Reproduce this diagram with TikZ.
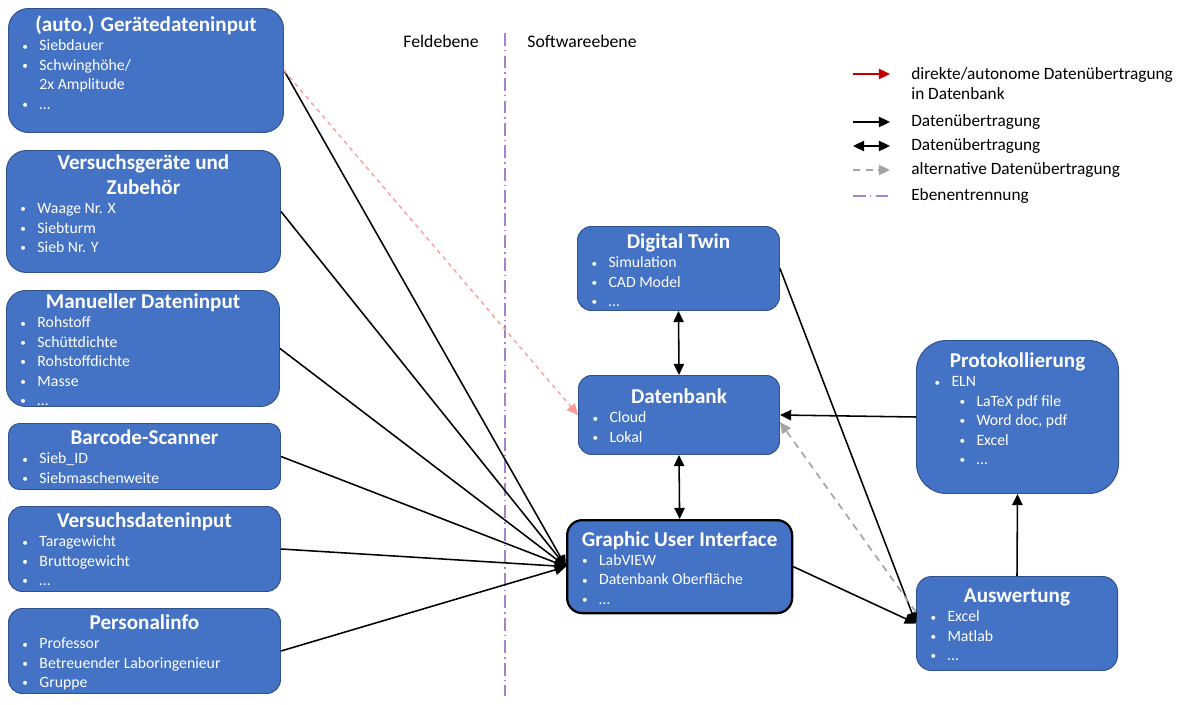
\documentclass[tikz,border=0pt]{standalone}
\usepackage{fontspec}
\setmainfont{Carlito}
\usetikzlibrary{arrows.meta}

\newlength\unitpx
\setlength\unitpx{0.025cm}
\definecolor{boxblue}{HTML}{4472C4}
\definecolor{boxline}{HTML}{2F528F}
\definecolor{legred}{HTML}{C00000}
\definecolor{pinkred}{HTML}{FF9B9B}
\definecolor{altgray}{HTML}{A5A5A5}
\definecolor{sepviolet}{HTML}{A383CC}

\newcommand\titlefont{\fontsize{15}{17.7}\selectfont\bfseries}
\newcommand\itemfont{\fontsize{11.2}{13.8}\selectfont\mdseries}
\newcommand\dotmark{\raisebox{0.6pt}{\fontsize{8}{8}\selectfont\textbullet}}
\newcommand\bul[2][14]{\par\noindent\hspace*{#1\unitpx}\makebox[17\unitpx][l]{\dotmark}#2}
\newcommand\boxbody[5]{%
  \parbox[c][#2\unitpx][t]{#1\unitpx}{%
    \centering\titlefont\rule{0pt}{#3\unitpx}#4\par
    \raggedright\itemfont #5}}

\begin{document}
\begin{tikzpicture}[x=0.025cm, y=-0.025cm,
    databox/.style={draw=boxline, line width=0.7pt, fill=boxblue, text=white,
      inner sep=0pt, anchor=north west},
    flow/.style={line width=1.1pt, -{Triangle[length=0.28cm, width=0.26cm]}},
    both/.style={line width=1.1pt, {Triangle[length=0.28cm, width=0.26cm]}-{Triangle[length=0.28cm, width=0.26cm]}},
    direct/.style={pinkred, line width=1pt, dashed, -{Triangle[length=0.28cm, width=0.26cm]}},
    alt/.style={altgray, line width=1.2pt, dash pattern=on 5pt off 4pt, -{Triangle[length=0.28cm, width=0.26cm]}},
    sep/.style={sepviolet, line width=0.9pt, dash pattern=on 9pt off 3pt on 1pt off 3pt},
    level/.style={font=\fontsize{12.6}{15}\selectfont, inner sep=0pt},
    legtext/.style={font=\fontsize{12.3}{14.2}\selectfont, align=left, anchor=west, inner sep=0pt}]
    \useasboundingbox (0,0) rectangle (1202,704);

    % Field level: input boxes
    \node[databox, rounded corners=0.5cm] (geraete) at (8,8)
      {\boxbody{275}{124}{23}{(auto.) Gerätedateninput}{\bul{Siebdauer}\bul{Schwinghöhe/}%
        \par\noindent\hspace*{31\unitpx}2x Amplitude\bul{…}}};
    \node[databox, rounded corners=0.5cm] (zubehoer) at (6,150)
      {\boxbody{274}{122}{19}{Versuchsgeräte und\\Zubehör}{\bul{Waage Nr. X}\bul{Siebturm}\bul{Sieb Nr. Y}}};
    \node[databox, rounded corners=0.48cm] (manuell) at (6,290)
      {\boxbody{273}{116}{18}{Manueller Dateninput}{\bul{Rohstoff}\bul{Schüttdichte}\bul{Rohstoffdichte}\bul{Masse}\bul{…}}};
    \node[databox, rounded corners=0.28cm] (barcode) at (8,423)
      {\boxbody{272}{66}{21}{Barcode-Scanner}{\bul{Sieb\_ID}\bul{Siebmaschenweite}}};
    \node[databox, rounded corners=0.35cm] (versuch) at (8,506)
      {\boxbody{272}{85}{21}{Versuchsdateninput}{\bul{Taragewicht}\bul{Bruttogewicht}\bul{…}}};
    \node[databox, rounded corners=0.35cm] (personal) at (8,608)
      {\boxbody{272}{85}{21}{Personalinfo}{\bul{Professor}\bul{Betreuender Laboringenieur}\bul{Gruppe}}};

    % Software level
    \node[databox, rounded corners=0.35cm] (twin) at (577,226)
      {\boxbody{202}{84}{22}{Digital Twin}{\bul{Simulation}\bul{CAD Model}\bul{…}}};
    \node[databox, rounded corners=0.33cm] (datenbank) at (578,375)
      {\boxbody{201}{79}{28}{Datenbank}{\bul{Cloud}\bul{Lokal}}};
    \node[databox, draw=black, line width=1.6pt, rounded corners=0.38cm] (gui) at (566,519)
      {\boxbody{225}{93}{26}{Graphic User Interface}{\bul[15]{LabVIEW}\bul[15]{Datenbank Oberfläche}\bul[15]{…}}};
    \node[databox, rounded corners=0.75cm] (protokoll) at (916,340)
      {\boxbody{202}{153}{27}{Protokollierung}{\bul[18]{ELN}\bul[43]{LaTeX pdf file}\bul[43]{Word doc, pdf}\bul[43]{Excel}\bul[43]{…}}};
    \node[databox, rounded corners=0.38cm] (auswertung) at (916,576)
      {\boxbody{201}{94}{26}{Auswertung}{\bul{Excel}\bul{Matlab}\bul{…}}};

    % Level separation
    \coordinate (septop) at (505,33);
    \coordinate (sepbot) at (505,696);
    \draw[sep] (septop) -- (sepbot);
    \node[level] (feld) at (441,41) {Feldebene};
    \node[level] (soft) at (582,41) {Softwareebene};

    % Inputs to the GUI
    \foreach \src in {geraete,zubehoer,manuell,barcode,versuch,personal}
      \draw[flow] (\src.east) -- (gui.west);
    \draw[direct] (geraete.east) -- (datenbank.west);

    % Data flow on the software level
    \draw[both] (twin.south) -- (datenbank.north);
    \draw[both] (datenbank.south) -- (gui.north);
    \draw[flow] (gui.east) -- (auswertung.west);
    \draw[flow] (twin.east) -- (auswertung.west);
    \draw[flow] (auswertung.north) -- (protokoll.south);
    \draw[flow] (protokoll.west) -- (datenbank.east);
    \draw[alt] ([yshift=8pt]auswertung.west) -- ([yshift=-5pt]datenbank.east);

    % Legend
    \coordinate (l1a) at (853,74);  \coordinate (l1b) at (890,74);
    \coordinate (l2a) at (853,122); \coordinate (l2b) at (890,122);
    \coordinate (l3a) at (853,146); \coordinate (l3b) at (890,146);
    \coordinate (l4a) at (853,170); \coordinate (l4b) at (890,170);
    \coordinate (l5a) at (853,196); \coordinate (l5b) at (890,196);
    \draw[legred, line width=1.1pt, -{Triangle[length=0.28cm, width=0.26cm]}] (l1a) -- (l1b);
    \draw[flow] (l2a) -- (l2b);
    \draw[both] (l3a) -- (l3b);
    \draw[alt] (l4a) -- (l4b);
    \draw[sep] (l5a) -- (l5b);
    \node[legtext] (leg1) at (911,84) {direkte/autonome Datenübertragung\\in Datenbank};
    \node[legtext] (leg2) at (911,122) {Datenübertragung};
    \node[legtext] (leg3) at (911,146) {Datenübertragung};
    \node[legtext] (leg4) at (911,170) {alternative Datenübertragung};
    \node[legtext] (leg5) at (911,196) {Ebenentrennung};
\end{tikzpicture}
\end{document}
